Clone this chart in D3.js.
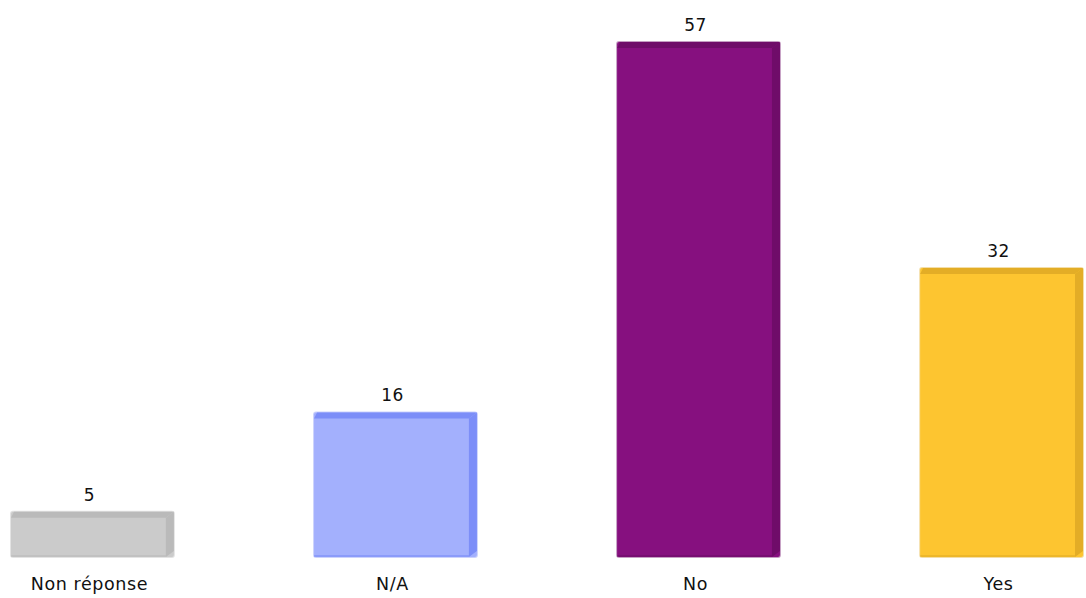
<!DOCTYPE html>
<html>
<head>
<meta charset="utf-8">
<script src="https://cdn.jsdelivr.net/npm/d3@7"></script>
<style>
  body { margin: 0; background: #fff; }
  text { font-family: "DejaVu Sans", Verdana, sans-serif; fill: #111; }
</style>
</head>
<body>
<div id="chart"></div>
<script>
(function(){
const categories = ["Non réponse", "N/A", "No", "Yes"];
const values = [5, 16, 57, 32];
const faceColors = ["#cbcbcb", "#a3b0fd", "#86107f", "#fdc530"];
const edgeColors = ["#bababa", "#7c8ef8", "#6f0c69", "#e3ad26"];

const width = 1086;
const height = 598;
const baseY = 557;
const depth = 8;

const svg = d3.select("#chart")
  .append("svg")
  .attr("width", width)
  .attr("height", height);

const data = categories.map((c, i) => ({
  category: c, value: values[i], face: faceColors[i], edge: edgeColors[i]
}));

const x = d3.scaleBand()
  .domain(categories)
  .range([11, 1083])
  .paddingInner(0.4626)
  .paddingOuter(0);

const y = d3.scaleLinear()
  .domain([0, 57])
  .range([baseY, 42]);

const bw = x.bandwidth();

const bars = svg.selectAll(".bar")
  .data(data)
  .enter().append("g")
  .attr("class", "bar");

// soft outline
bars.append("rect")
  .attr("x", d => x(d.category) - 1)
  .attr("y", d => y(d.value) - 1)
  .attr("width", bw + 2)
  .attr("height", d => baseY - y(d.value) + 2)
  .attr("rx", 3)
  .attr("fill", d => d.edge)
  .attr("opacity", 0.4);

// front face
bars.append("rect")
  .attr("x", d => x(d.category))
  .attr("y", d => y(d.value))
  .attr("width", bw)
  .attr("height", d => baseY - y(d.value))
  .attr("rx", 2)
  .attr("fill", d => d.face);

// bottom edge
bars.append("rect")
  .attr("x", d => x(d.category))
  .attr("y", baseY - 2)
  .attr("width", bw - depth)
  .attr("height", 2)
  .attr("fill", d => d.edge)
  .attr("opacity", 0.6);

// top bevel
bars.append("path")
  .attr("d", d => {
    const x0 = x(d.category), y0 = y(d.value);
    return `M${x0},${y0 + 6} L${x0 + 3},${y0} L${x0 + bw},${y0} L${x0 + bw - depth},${y0 + 6} Z`;
  })
  .attr("fill", d => d.edge);

// right side
bars.append("path")
  .attr("d", d => {
    const x0 = x(d.category), y0 = y(d.value);
    return `M${x0 + bw - depth},${y0 + 6} L${x0 + bw},${y0} L${x0 + bw},${baseY - 6} L${x0 + bw - depth},${baseY} Z`;
  })
  .attr("fill", d => d.edge);

// value labels
svg.selectAll(".value-label")
  .data(data)
  .enter().append("text")
  .attr("class", "value-label")
  .attr("x", d => x(d.category) + bw / 2 - 3)
  .attr("y", d => y(d.value) - 11)
  .attr("text-anchor", "middle")
  .attr("font-size", 17)
  .attr("letter-spacing", 0.5)
  .text(d => d.value);

// category labels
svg.selectAll(".category-label")
  .data(data)
  .enter().append("text")
  .attr("class", "category-label")
  .attr("x", d => x(d.category) + bw / 2 - 3)
  .attr("y", 590)
  .attr("text-anchor", "middle")
  .attr("font-size", 17.5)
  .attr("letter-spacing", 0.6)
  .text(d => d.category);
})();
</script>
</body>
</html>
